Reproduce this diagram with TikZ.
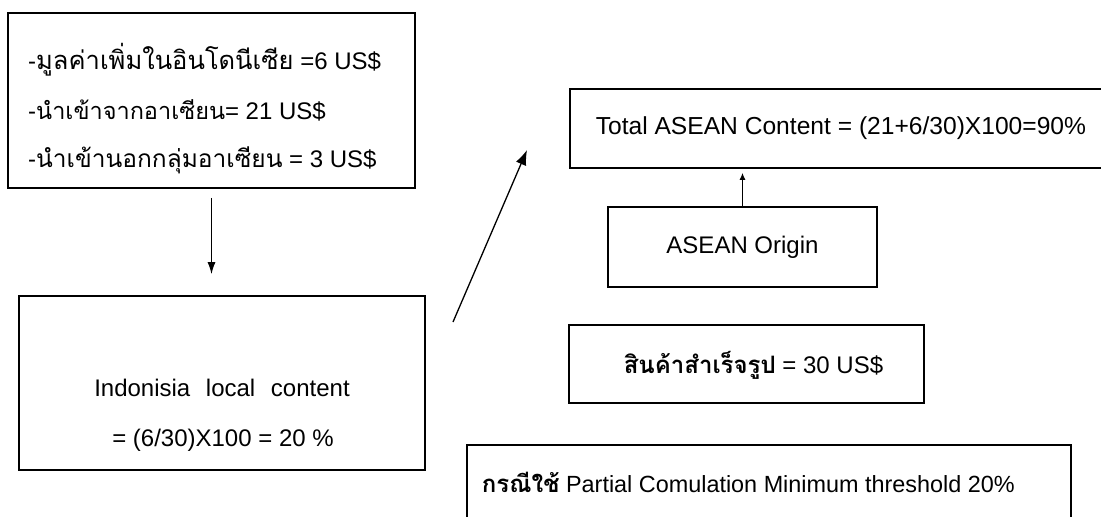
\documentclass[tikz,border=0pt]{standalone}
\usepackage{fontspec}
\setmainfont{Liberation Sans}
\newfontfamily\thai[Script=Thai]{Loma}
\usetikzlibrary{arrows.meta}
\tikzset{
  box/.style={draw, line width=1.6pt, inner sep=0pt},
  txt/.style={inner sep=0pt, font=\fontsize{24}{28}\selectfont},
  thtxt/.style={inner sep=0pt, anchor=west, font=\fontsize{24}{28}\selectfont},
  arr/.style={line width=1.3pt, -{Latex[length=12pt,width=8pt]}},
  bigarr/.style={line width=1.3pt, -{Latex[length=15pt,width=11pt]}},
  smallarr/.style={line width=1.2pt, -{Latex[length=7pt,width=6pt]}}
}
\begin{document}
\begin{tikzpicture}[x=1pt,y=-1pt]
\useasboundingbox (0,0) rectangle (1101,517);
\clip (0,0) rectangle (1101,517);
\fill[white] (0,0) rectangle (1101,517);
% top-left box
\node[box, minimum width=407pt, minimum height=175pt] (b1) at (211.5,100.5) {};
\node[thtxt] (l1) at (28,60) {-{\thai\fontsize{25.5}{30}\selectfont มูลค่าเพิ่มในอินโดนีเซีย} =6 US\$};
\node[thtxt] (l2) at (28,110) {-{\thai\fontsize{23.5}{30}\selectfont นำเข้าจากอาเซียน}= 21 US\$};
\node[thtxt] (l3) at (28,160) {-{\thai\fontsize{24.5}{30}\selectfont นำเข้านอกกลุ่มอาเซียน} = 3 US\$};
% Indonesia box
\node[box, minimum width=406pt, minimum height=174pt] (b2) at (222,383) {};
\node[txt] (i1) at (222,388) {Indonisia\hspace{9pt} local\hspace{9pt} content};
\node[txt] (i2) at (223,440) {= (6/30)X100 = 20 \%};
% Total box
\node[box, anchor=west, minimum height=79pt, inner xsep=26pt, font=\fontsize{24.6}{28}\selectfont] (tot) at (569,128.5) {Total ASEAN Content = (21+6/30)X100=90\%};
% ASEAN origin
\node[box, txt, minimum width=269pt, minimum height=80pt] (org) at (742.5,247) {ASEAN Origin};
% finished goods
\node[box, minimum width=355pt, minimum height=78pt] (fin) at (746.5,364) {};
\node[txt] (fint) at (753.5,365) {{\thai\bfseries\fontsize{24}{30}\selectfont สินค้าสำเร็จรูป} = 30 US\$};
% partial box
\node[box, minimum width=604pt, minimum height=100pt, anchor=north east] (par) at (1072,444) {};
\node[thtxt, anchor=east, font=\fontsize{23.4}{28}\selectfont] (part) at (1015,482) {{\thai\bfseries\fontsize{24}{30}\selectfont กรณีใช้} Partial Comulation Minimum threshold 20\%};
% arrows
\draw[arr, shorten <=9pt, shorten >=21pt] (b1.south) -- (b1.south |- b2.north);
\coordinate (d1) at (453,322);
\coordinate (d2) at (527,150);
\draw[bigarr] (d1) -- (d2);
\draw[smallarr, shorten >=4pt] (org.north) -- (org.north |- tot.south);
\end{tikzpicture}
\end{document}
